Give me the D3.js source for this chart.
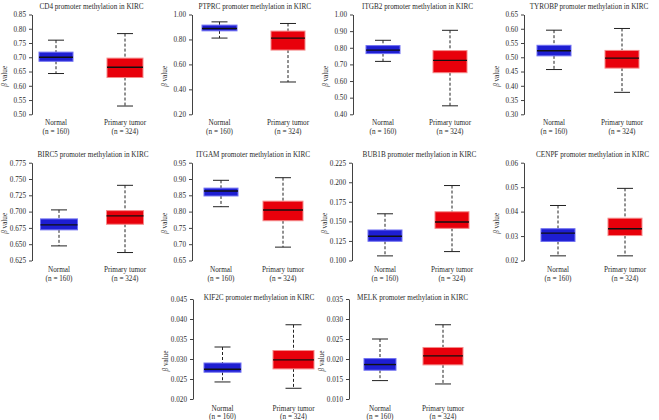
<!DOCTYPE html>
<html>
<head>
<meta charset="utf-8">
<script src="https://cdn.jsdelivr.net/npm/d3@7"></script>
<style>
  body { margin: 0; background: #fff; }
  svg text { font-family: "Liberation Serif", "DejaVu Serif", serif; }
</style>
</head>
<body>
<div id="chart"></div>
<script>
// gene names, one panel each
var genes = ["CD4", "PTPRC", "ITGB2", "TYROBP", "BIRC5", "ITGAM", "BUB1B", "CENPF", "KIF2C", "MELK"];
var groups = ["Normal", "Primary tumor"];
var groupCounts = ["(n = 160)", "(n = 324)"];

// box stats: [lower whisker, q1, median, q3, upper whisker]
var normalStats = [
  [0.643, 0.686, 0.700, 0.718, 0.760],
  [0.811, 0.869, 0.888, 0.915, 0.941],
  [0.718, 0.765, 0.786, 0.813, 0.845],
  [0.457, 0.505, 0.523, 0.542, 0.595],
  [0.6474, 0.6720, 0.6796, 0.6888, 0.7026],
  [0.815, 0.848, 0.863, 0.872, 0.896],
  [0.1059, 0.1246, 0.1309, 0.1390, 0.1597],
  [0.0219, 0.0278, 0.0312, 0.0330, 0.0425],
  [0.02426, 0.0267, 0.02744, 0.0290, 0.0330],
  [0.0146, 0.0172, 0.01861, 0.0201, 0.0250]
];
var tumorStats = [
  [0.529, 0.629, 0.665, 0.697, 0.783],
  [0.459, 0.715, 0.811, 0.867, 0.928],
  [0.451, 0.650, 0.724, 0.783, 0.905],
  [0.377, 0.462, 0.497, 0.524, 0.601],
  [0.6372, 0.6806, 0.6934, 0.7015, 0.7403],
  [0.691, 0.772, 0.805, 0.832, 0.904],
  [0.1114, 0.1411, 0.1492, 0.1623, 0.1958],
  [0.0219, 0.0302, 0.0330, 0.0373, 0.0495],
  [0.02268, 0.02753, 0.02978, 0.03212, 0.03856],
  [0.01376, 0.01853, 0.02079, 0.02288, 0.02856]
];

// y tick labels per panel
var yTickLabels = [
  ["0.50", "0.55", "0.60", "0.65", "0.70", "0.75", "0.80", "0.85"],
  ["0.20", "0.40", "0.60", "0.80", "1.00"],
  ["0.40", "0.50", "0.60", "0.70", "0.80", "0.90", "1.00"],
  ["0.30", "0.35", "0.40", "0.45", "0.50", "0.55", "0.60", "0.65"],
  ["0.625", "0.650", "0.675", "0.700", "0.725", "0.750", "0.775"],
  ["0.65", "0.70", "0.75", "0.80", "0.85", "0.90", "0.95"],
  ["0.100", "0.125", "0.150", "0.175", "0.200", "0.225"],
  ["0.02", "0.03", "0.04", "0.05", "0.06"],
  ["0.020", "0.025", "0.030", "0.035", "0.040", "0.045"],
  ["0.010", "0.015", "0.020", "0.025", "0.030", "0.035"]
];

// layout: rows (y geometry) and panels (axis x, box centres, box widths)
var rows = [
  { top: 14.5, bottom: 114.3, title: 8.5, lab1: 124.5, lab2: 133.5 },
  { top: 162.7, bottom: 260.5, title: 156.5, lab1: 271.5, lab2: 280.5 },
  { top: 299, bottom: 399, title: 299.5, lab1: 410.5, lab2: 418.5 }
];
var panels = [
  { row: 0, ax: 32,  cx: [24, 93],   bw: [34, 36] },
  { row: 0, ax: 192, cx: [27.5, 96], bw: [35, 34] },
  { row: 0, ax: 353, cx: [30, 97],   bw: [34, 34] },
  { row: 0, ax: 524, cx: [30, 98],   bw: [34, 34] },
  { row: 1, ax: 32,  cx: [27, 93],   bw: [37, 37] },
  { row: 1, ax: 192, cx: [29, 91],   bw: [34, 40] },
  { row: 1, ax: 352, cx: [33, 100],  bw: [34, 34] },
  { row: 1, ax: 524, cx: [34, 101],  bw: [34, 34] },
  { row: 2, ax: 193, cx: [29.5, 100.5], bw: [37, 41] },
  { row: 2, ax: 349, cx: [31, 94],   bw: [32, 40] }
];

var fills = ["#1e1ed2", "#e8000b"];
var strokes = ["#7070f2", "#f58a8a"];
var textColor = "#2a2a2a";
var fontSize = "7.2px";
var capW = 16;

var svg = d3.select("#chart").append("svg")
  .attr("width", 659)
  .attr("height", 420);

genes.forEach(function(gene, i) {
  var p = panels[i];
  var r = rows[p.row];
  var ticks = yTickLabels[i].map(Number);

  var y = d3.scaleLinear()
    .domain([ticks[0], ticks[ticks.length - 1]])
    .range([r.bottom, r.top]);

  var x = d3.scaleOrdinal()
    .domain(groups)
    .range([p.ax + p.cx[0], p.ax + p.cx[1]]);

  var g = svg.append("g");

  // y axis
  var axis = g.append("g")
    .attr("transform", "translate(" + p.ax + ",0)")
    .call(d3.axisLeft(y)
      .tickValues(ticks)
      .tickFormat(function(d, k) { return yTickLabels[i][k]; })
      .tickSize(3)
      .tickSizeOuter(0));
  axis.select(".domain").attr("stroke", "#111").attr("stroke-width", 0.8);
  axis.selectAll(".tick line").attr("stroke", "#111").attr("stroke-width", 0.8);
  axis.selectAll(".tick text")
    .attr("x", -6)
    .style("font-family", "'Liberation Serif', serif")
    .style("font-size", fontSize)
    .attr("fill", textColor);

  // y label
  var ly = r.top + 0.62 * (r.bottom - r.top);
  var lab = g.append("text")
    .attr("transform", "translate(" + (p.ax - 25) + "," + ly + ") rotate(-90)")
    .attr("text-anchor", "middle")
    .attr("fill", textColor)
    .style("font-size", fontSize);
  lab.append("tspan").style("font-style", "italic").text("β");
  lab.append("tspan").text(" value");

  // title
  g.append("text")
    .attr("x", (x(groups[0]) + x(groups[1])) / 2 + 1)
    .attr("y", r.title)
    .attr("text-anchor", "middle")
    .attr("fill", textColor)
    .style("font-size", fontSize)
    .text(gene + " promoter methylation in KIRC");

  [normalStats[i], tumorStats[i]].forEach(function(s, k) {
    var cx = x(groups[k]);
    var w = p.bw[k];

    // whiskers (dashed)
    g.append("line")
      .attr("x1", cx).attr("x2", cx)
      .attr("y1", y(s[4])).attr("y2", y(s[3]))
      .attr("stroke", "#222").attr("stroke-width", 1)
      .attr("stroke-dasharray", "3,2");
    g.append("line")
      .attr("x1", cx).attr("x2", cx)
      .attr("y1", y(s[1])).attr("y2", y(s[0]))
      .attr("stroke", "#222").attr("stroke-width", 1)
      .attr("stroke-dasharray", "3,2");

    // caps
    [s[0], s[4]].forEach(function(v) {
      g.append("line")
        .attr("x1", cx - capW / 2).attr("x2", cx + capW / 2)
        .attr("y1", y(v)).attr("y2", y(v))
        .attr("stroke", "#222").attr("stroke-width", 1);
    });

    // box
    g.append("rect")
      .attr("x", cx - w / 2)
      .attr("y", y(s[3]))
      .attr("width", w)
      .attr("height", y(s[1]) - y(s[3]))
      .attr("fill", fills[k])
      .attr("stroke", strokes[k])
      .attr("stroke-width", 1);

    // median
    g.append("line")
      .attr("x1", cx - w / 2).attr("x2", cx + w / 2)
      .attr("y1", y(s[2])).attr("y2", y(s[2]))
      .attr("stroke", "#111").attr("stroke-width", 1.4);

    // x labels
    g.append("text")
      .attr("x", cx).attr("y", r.lab1)
      .attr("text-anchor", "middle")
      .attr("fill", textColor)
      .style("font-size", fontSize)
      .text(groups[k]);
    g.append("text")
      .attr("x", cx).attr("y", r.lab2)
      .attr("text-anchor", "middle")
      .attr("fill", textColor)
      .style("font-size", fontSize)
      .text(groupCounts[k]);
  });
});
</script>
</body>
</html>
